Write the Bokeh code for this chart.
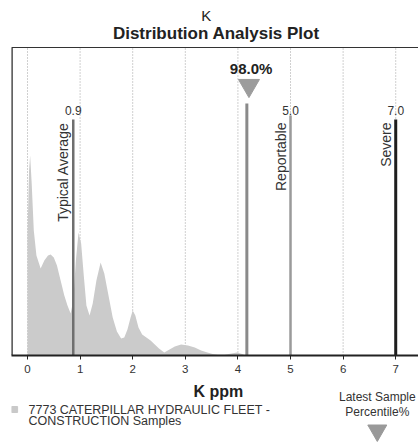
from bokeh.plotting import figure
from bokeh.layouts import column
from bokeh.models import Range1d, FixedTicker
from bokeh.core.properties import value
from bokeh.embed import file_html
from bokeh.resources import INLINE

FONT = "Liberation Sans"

# distribution of fleet samples (K ppm vs relative density)
dens_x = [0.0, 0.0, 0.03, 0.05, 0.08, 0.12, 0.17, 0.25, 0.32, 0.39, 0.44, 0.50, 0.56, 0.63,
          0.70, 0.76, 0.82, 0.87, 0.92, 0.97, 1.02, 1.07, 1.12, 1.18, 1.24, 1.31, 1.39,
          1.46, 1.54, 1.62, 1.70, 1.78, 1.84, 1.90, 1.96, 2.00, 2.05, 2.11, 2.18, 2.26,
          2.34, 2.42, 2.50, 2.60, 2.70, 2.80, 2.92, 3.05, 3.18, 3.30, 3.42, 3.52, 3.62,
          3.75, 3.88, 3.98, 4.08, 4.15]
dens_y = [0, 120, 185, 200, 172, 125, 100, 87, 95, 100, 101, 98, 90, 75,
          60, 50, 42, 55, 95, 123, 112, 80, 50, 40, 52, 75, 93,
          82, 60, 38, 24, 17, 18, 26, 38, 45, 40, 28, 21, 18,
          15, 11, 7, 3, 6, 9, 11, 10, 8, 5, 3, 1.5, 0.8,
          0.8, 2, 3, 1.5, 0]

tick_values = [0, 1, 2, 3, 4, 5, 6, 7]

# reference lines
typical_avg = 0.87
typical_label = "0.9"
reportable = 5.0
reportable_label = "5.0"
severe = 7.0
severe_label = "7.0"
latest_sample = 4.17
latest_pct = "98.0%"

title_main = "K"
title_sub = "Distribution Analysis Plot"
x_label = "K ppm"
legend_lines = ["7773 CATERPILLAR HYDRAULIC FLEET -", "CONSTRUCTION Samples"]
key_lines = ["Latest Sample", "Percentile%"]

X0, X1 = -0.304, 7.433
PLOT_TOP = 308

# ---------------- main chart ----------------
p = figure(width=418, height=380, x_range=Range1d(X0, X1), y_range=Range1d(0, 355),
           output_backend="svg", toolbar_location=None,
           min_border_left=11, min_border_right=0, min_border_top=0, min_border_bottom=25)
p.outline_line_color = None
p.background_fill_color = "white"
p.border_fill_color = "white"
p.yaxis.visible = False
p.grid.visible = False

ax = p.xaxis[0]
ax.ticker = FixedTicker(ticks=tick_values)
ax.minor_tick_line_color = None
ax.major_tick_in = 0
ax.major_tick_out = 4
ax.major_tick_line_color = "#222"
ax.axis_line_color = "#222"
ax.axis_line_width = 2
ax.major_label_text_font = FONT
ax.major_label_text_font_size = "11.5px"
ax.major_label_text_color = "#333"
ax.major_label_standoff = 5

# dotted vertical grid at the ticks
p.segment(x0=tick_values, y0=[0] * len(tick_values), x1=tick_values, y1=[PLOT_TOP] * len(tick_values),
          line_color="#a0a0a0", line_dash="1 2", line_width=1)

# frame borders (left and top)
p.segment(x0=[X0 + 0.004], y0=[0], x1=[X0 + 0.004], y1=[PLOT_TOP], line_color="#222", line_width=2)
p.segment(x0=[X0], y0=[PLOT_TOP], x1=[X1], y1=[PLOT_TOP], line_color="#333", line_width=1)

# distribution area
p.varea(x=dens_x, y1=0, y2=dens_y, fill_color="#cbcbcb", fill_alpha=1)

# marker lines
p.segment(x0=[typical_avg], y0=[0], x1=[typical_avg], y1=[236], line_color="#6f6f6f", line_width=2.5)
p.segment(x0=[reportable], y0=[0], x1=[reportable], y1=[240], line_color="#9a9a9a", line_width=2.5)
p.segment(x0=[severe], y0=[0], x1=[severe], y1=[236], line_color="#1e1e1e", line_width=3)
p.segment(x0=[latest_sample], y0=[0], x1=[latest_sample], y1=[252], line_color="#8a8a8a", line_width=3)
p.scatter(x=[latest_sample + 0.04], y=[270], marker="inverted_triangle", size=21,
          fill_color="#9c9c9c", line_color="#9c9c9c")

p.text(x=[latest_sample + 0.08], y=[279], text=[latest_pct], text_font=value(FONT), text_font_size="15px",
       text_font_style="bold", text_color="#222", text_align="center", text_baseline="bottom")

for xv, lab in [(typical_avg, typical_label), (reportable, reportable_label), (severe, severe_label)]:
    p.text(x=[xv], y=[241], text=[lab], text_font=value(FONT), text_font_size="12px",
           text_color="#333", text_align="center", text_baseline="bottom")

for xv, name in [(typical_avg, "Typical Average"), (reportable, "Reportable"), (severe, "Severe")]:
    p.text(x=[xv - 0.035], y=[233], text=[name], text_font=value(FONT), text_font_size="14px",
           text_color="#333", angle=1.5708, text_align="right", text_baseline="bottom")

# titles
p.text(x=[3.40], y=[340], text=[title_main], text_font=value(FONT), text_font_size="15px",
       text_color="#222", text_align="center", text_baseline="middle")
p.text(x=[3.59], y=[322], text=[title_sub], text_font=value(FONT), text_font_size="17px",
       text_font_style="bold", text_color="#222", text_align="center", text_baseline="middle")

# ---------------- bottom strip: axis title and keys ----------------
q = figure(width=418, height=62, x_range=Range1d(X0, X1), y_range=Range1d(0, 62),
           output_backend="svg", toolbar_location=None,
           min_border_left=11, min_border_right=0, min_border_top=0, min_border_bottom=0)
q.outline_line_color = None
q.axis.visible = False
q.grid.visible = False
q.background_fill_color = "white"
q.border_fill_color = "white"

q.text(x=[3.63], y=[51], text=[x_label], text_font=value(FONT), text_font_size="16px",
       text_font_style="bold", text_color="#222", text_align="center", text_baseline="middle")

q.scatter(x=[-0.245], y=[33], marker="square", size=6, fill_color="#c9c9c9", line_color="#c9c9c9")
q.text(x=[0.02, 0.02], y=[33, 22], text=legend_lines, text_font=value(FONT), text_font_size="12.5px",
       text_color="#333", text_align="left", text_baseline="middle")

q.text(x=[6.65, 6.65], y=[46, 31], text=key_lines, text_font=value(FONT), text_font_size="12px",
       text_color="#333", text_align="center", text_baseline="middle")
q.scatter(x=[6.65], y=[12], marker="inverted_triangle", size=19, fill_color="#999", line_color="#999")

layout = column(p, q, spacing=0)
open("out.html", "w").write(file_html(layout, INLINE))
